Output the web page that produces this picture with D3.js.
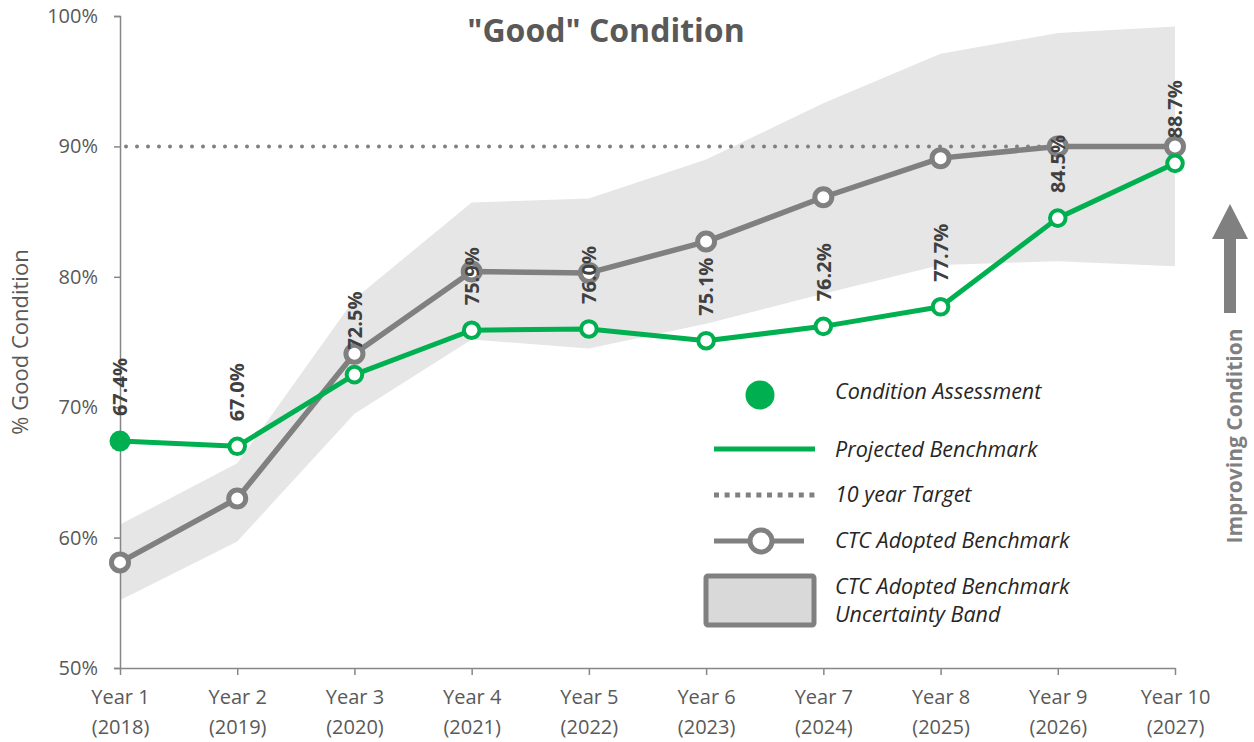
<!DOCTYPE html>
<html>
<head>
<meta charset="utf-8">
<script src="https://cdn.jsdelivr.net/npm/d3@7"></script>
<style>
  html, body { margin: 0; padding: 0; background: #ffffff; }
  svg { display: block; font-family: "Open Sans", "Noto Sans", sans-serif; }
</style>
</head>
<body>
<svg id="chart" width="1254" height="742"></svg>
<script>
// ---------- data ----------
const categories = ["Year 1", "Year 2", "Year 3", "Year 4", "Year 5", "Year 6", "Year 7", "Year 8", "Year 9", "Year 10"];
const yearLabels = ["(2018)", "(2019)", "(2020)", "(2021)", "(2022)", "(2023)", "(2024)", "(2025)", "(2026)", "(2027)"];
const projected = [67.4, 67.0, 72.5, 75.9, 76.0, 75.1, 76.2, 77.7, 84.5, 88.7];
const ctcAdopted = [58.1, 63.0, 74.1, 80.4, 80.3, 82.7, 86.1, 89.1, 90.0, 90.0];
const bandUpper = [61.0, 65.7, 78.3, 85.7, 86.0, 89.0, 93.3, 97.1, 98.7, 99.2];
const bandLower = [55.2, 59.7, 69.5, 75.2, 74.5, 76.4, 78.7, 80.9, 81.2, 80.8];
const target = 90;
const yTicks = [50, 60, 70, 80, 90, 100];
const legendLabels = ["Condition Assessment", "Projected Benchmark", "10 year Target", "CTC Adopted Benchmark", ["CTC Adopted Benchmark", "Uncertainty Band"]];

// ---------- styles ----------
const GREEN = "#00B050";
const GRAY = "#808080";
const BAND = "#E6E6E6";
const TEXT = "#595959";
const LABEL = "#404040";

const svg = d3.select("#chart");
const x = d3.scalePoint().domain(categories).range([120, 1175]);
const y = d3.scaleLinear().domain([50, 100]).range([668, 16]);

// band
const band = categories.map((c, i) => ({ c, lo: bandLower[i], hi: bandUpper[i] }));
svg.append("path")
  .datum(band)
  .attr("fill", BAND)
  .attr("d", d3.area().x(d => x(d.c)).y0(d => y(d.lo)).y1(d => y(d.hi)));

// axes
const yAxis = svg.append("g")
  .attr("transform", "translate(120,0)")
  .call(d3.axisLeft(y).tickValues(yTicks).tickFormat(d => d + "%").tickSize(6).tickPadding(16));
yAxis.select(".domain").attr("stroke", "#868686").attr("stroke-width", 1.5);
yAxis.selectAll(".tick line").attr("stroke", "#868686").attr("stroke-width", 1.5);
yAxis.selectAll(".tick text").attr("fill", TEXT).style("font-size", "20px").style("font-family", "Open Sans");

const xAxis = svg.append("g")
  .attr("transform", "translate(0,668)")
  .call(d3.axisBottom(x).tickSize(7).tickSizeOuter(0).tickFormat(""));
xAxis.select(".domain").attr("stroke", "#868686").attr("stroke-width", 1.5);
xAxis.selectAll(".tick line").attr("stroke", "#868686").attr("stroke-width", 1.5);
xAxis.selectAll(".tick").each(function(d, i) {
  const t = d3.select(this).append("text")
    .attr("fill", TEXT)
    .attr("text-anchor", "middle")
    .style("font-size", "20px")
    .style("font-family", "Open Sans");
  t.append("tspan").attr("x", 0).attr("y", 36).text(d);
  t.append("tspan").attr("x", 0).attr("y", 66).text(yearLabels[i]);
});

// y axis title
svg.append("text")
  .attr("transform", "translate(28,342) rotate(-90)")
  .attr("text-anchor", "middle")
  .attr("fill", TEXT)
  .style("font-size", "22px")
  .text("% Good Condition");

// target dotted line
svg.append("line")
  .attr("x1", x(categories[0]) + 6).attr("x2", x(categories[categories.length - 1]))
  .attr("y1", y(target)).attr("y2", y(target))
  .attr("stroke", GRAY).attr("stroke-width", 4)
  .attr("stroke-linecap", "round")
  .attr("stroke-dasharray", "0,11");

// CTC adopted line
svg.append("path")
  .datum(ctcAdopted)
  .attr("fill", "none").attr("stroke", GRAY).attr("stroke-width", 5.5)
  .attr("stroke-linejoin", "round")
  .attr("d", d3.line().x((d, i) => x(categories[i])).y(d => y(d)));
svg.selectAll(".ctcPt").data(ctcAdopted).enter().append("circle")
  .attr("cx", (d, i) => x(categories[i])).attr("cy", d => y(d))
  .attr("r", 8.5).attr("fill", "#ffffff").attr("stroke", GRAY).attr("stroke-width", 5);

// projected line
svg.append("path")
  .datum(projected)
  .attr("fill", "none").attr("stroke", GREEN).attr("stroke-width", 5)
  .attr("stroke-linejoin", "round")
  .attr("d", d3.line().x((d, i) => x(categories[i])).y(d => y(d)));
svg.selectAll(".projPt").data(projected).enter().append("circle")
  .attr("cx", (d, i) => x(categories[i])).attr("cy", d => y(d))
  .attr("r", (d, i) => i === 0 ? 10.5 : 7.8)
  .attr("fill", (d, i) => i === 0 ? GREEN : "#ffffff")
  .attr("stroke", GREEN).attr("stroke-width", (d, i) => i === 0 ? 0 : 4);

// data labels
svg.selectAll(".lbl").data(projected).enter().append("text")
  .attr("transform", (d, i) => `translate(${x(categories[i])},${y(d) - 25}) rotate(-90)`)
  .attr("dy", "0.36em")
  .attr("text-anchor", "start")
  .attr("fill", LABEL)
  .style("font-size", "20px").style("font-weight", "700")
  .text(d => d.toFixed(1) + "%");

// title
svg.append("text")
  .attr("x", 606).attr("y", 42)
  .attr("text-anchor", "middle")
  .attr("fill", TEXT)
  .style("font-size", "32px").style("font-weight", "700")
  .text('"Good" Condition');

// improving arrow
svg.append("path")
  .attr("d", "M1230,204 L1248,239 L1236,239 L1236,313 L1224,313 L1224,239 L1212,239 Z")
  .attr("fill", GRAY);
svg.append("text")
  .attr("transform", "translate(1234,436) rotate(-90)")
  .attr("text-anchor", "middle")
  .attr("dy", "0.36em")
  .attr("fill", GRAY)
  .style("font-size", "21px").style("font-weight", "700")
  .text("Improving Condition");

// legend
const lg = svg.append("g");
lg.append("circle").attr("cx", 760).attr("cy", 395).attr("r", 14.5).attr("fill", GREEN);
lg.append("line").attr("x1", 714).attr("x2", 815).attr("y1", 449).attr("y2", 449)
  .attr("stroke", GREEN).attr("stroke-width", 5);
lg.append("line").attr("x1", 714).attr("x2", 815).attr("y1", 495).attr("y2", 495)
  .attr("stroke", GRAY).attr("stroke-width", 5).attr("stroke-dasharray", "5,5.6");
lg.append("line").attr("x1", 714).attr("x2", 804).attr("y1", 541).attr("y2", 541)
  .attr("stroke", GRAY).attr("stroke-width", 5);
lg.append("circle").attr("cx", 761).attr("cy", 541).attr("r", 11).attr("fill", "#ffffff")
  .attr("stroke", GRAY).attr("stroke-width", 5);
lg.append("rect").attr("x", 706).attr("y", 576).attr("width", 108).attr("height", 49)
  .attr("rx", 2).attr("fill", "#D9D9D9").attr("stroke", GRAY).attr("stroke-width", 5);

const legendY = [399, 457, 502, 548];
legendLabels.slice(0, 4).forEach((t, i) => {
  lg.append("text").attr("x", 835).attr("y", legendY[i])
    .attr("fill", "#262626").style("font-size", "21.5px").style("font-style", "italic").text(t);
});
const last = lg.append("text").attr("fill", "#262626").style("font-size", "21.5px").style("font-style", "italic");
last.append("tspan").attr("x", 835).attr("y", 594).text(legendLabels[4][0]);
last.append("tspan").attr("x", 835).attr("y", 622).text(legendLabels[4][1]);
</script>
</body>
</html>
